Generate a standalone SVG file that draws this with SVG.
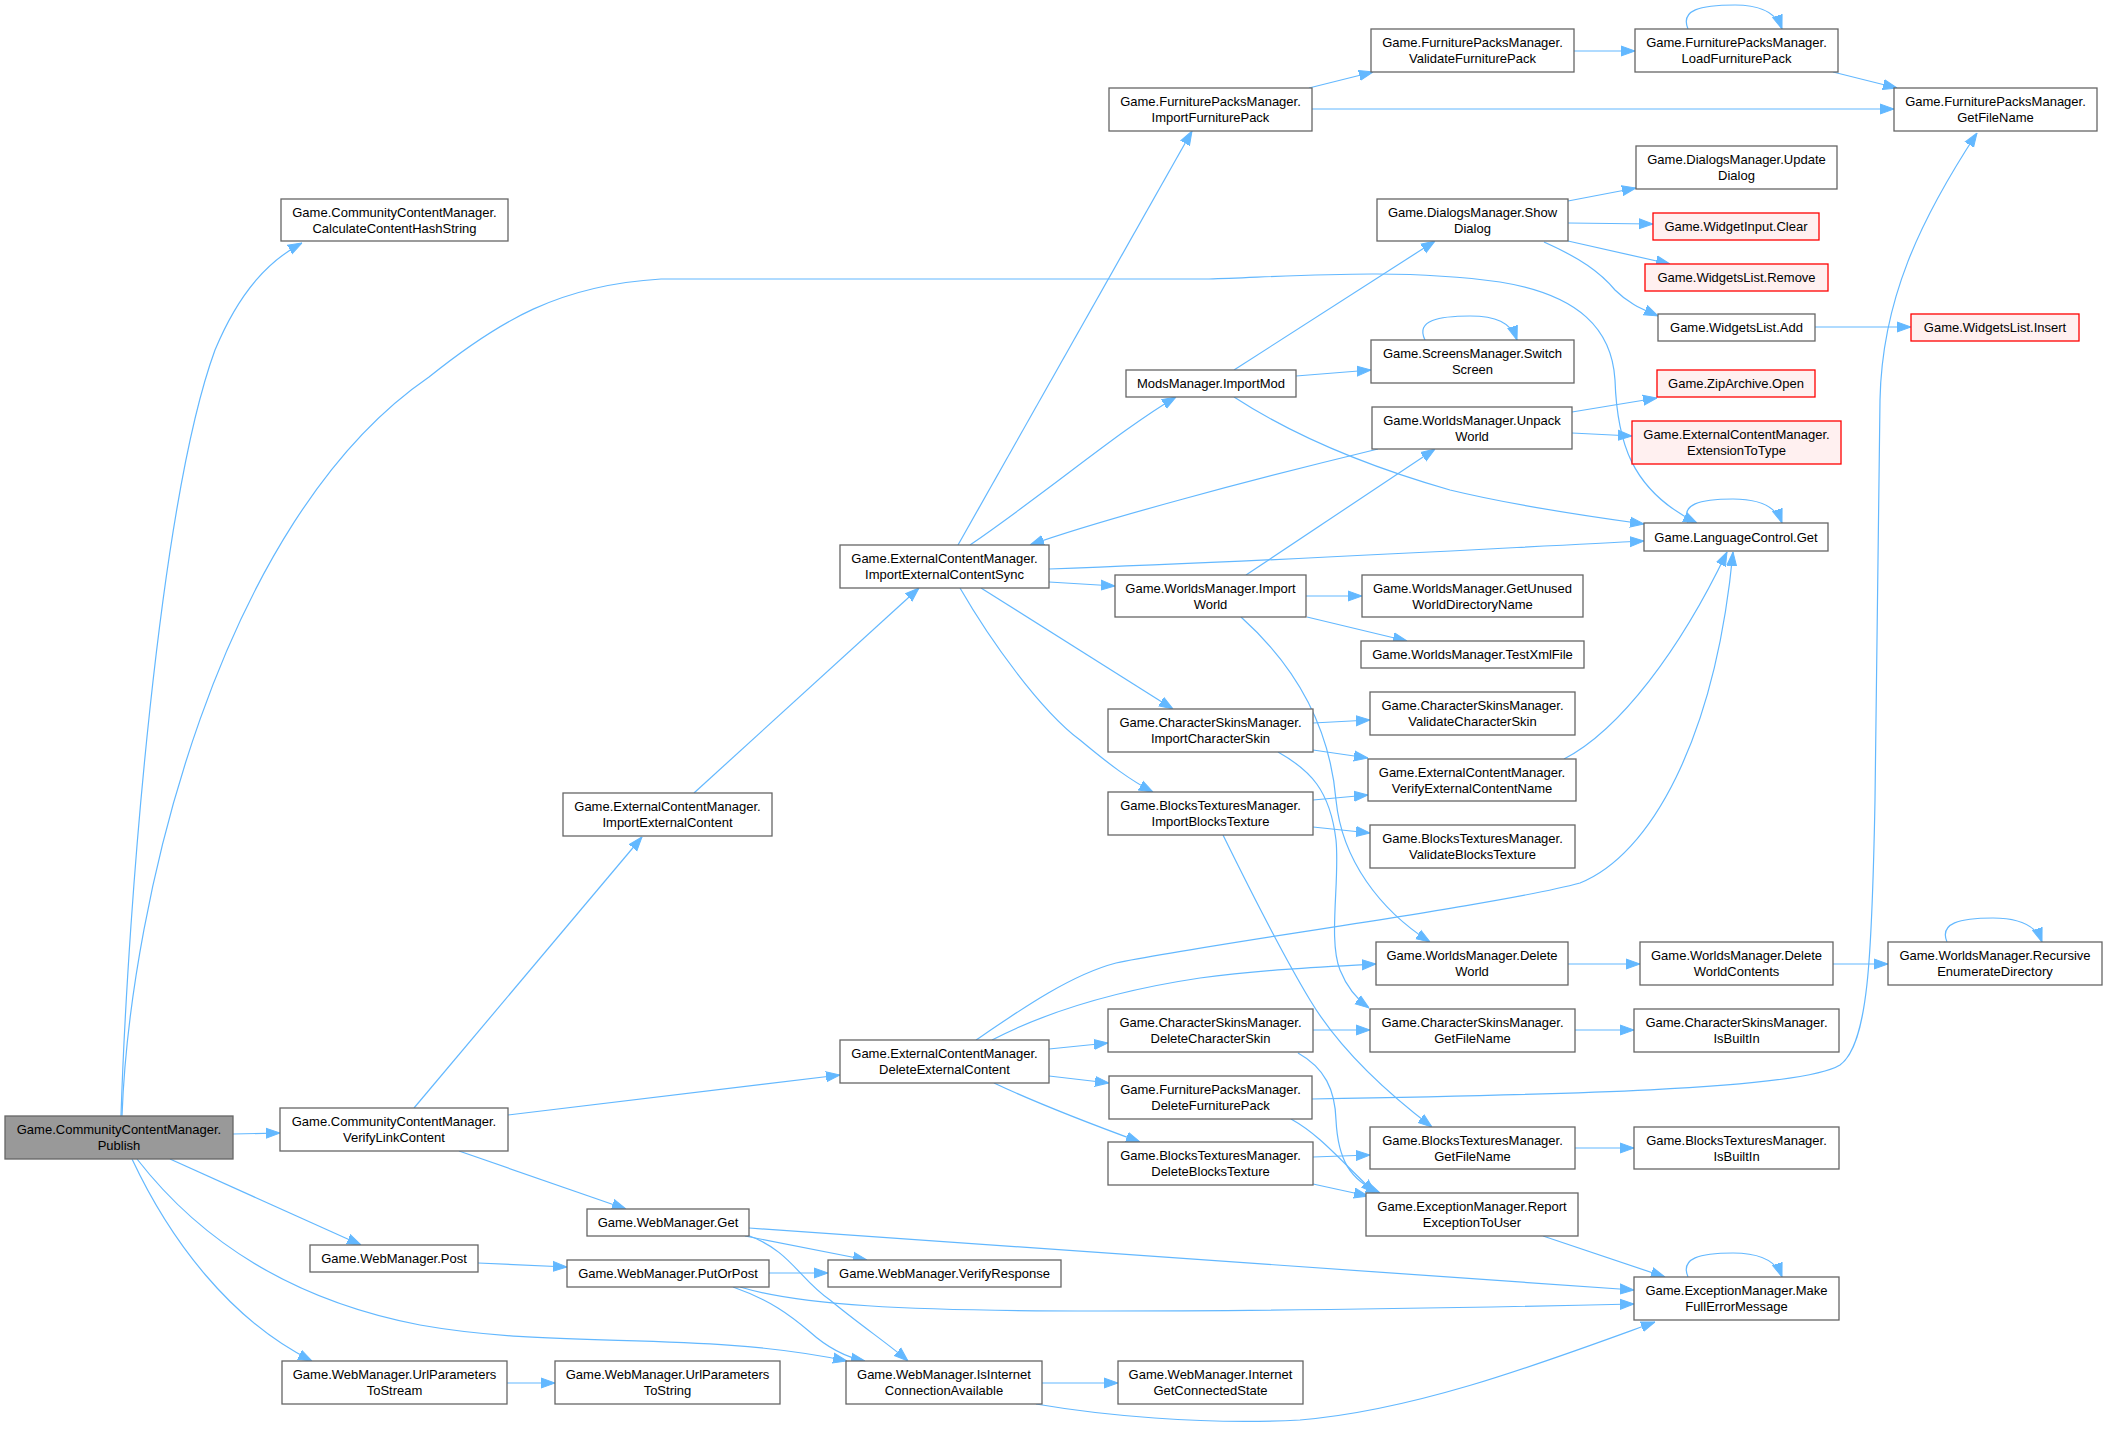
<svg xmlns="http://www.w3.org/2000/svg" width="2107" height="1430" viewBox="0 0 2107 1430">
<style>
.node rect{fill:#ffffff;stroke:#666666;stroke-width:1.3}
.node.root rect{fill:#999999}
.node.red rect{fill:#fff0f0;stroke:#ff0000}
.node text{font-family:"Liberation Sans",Arial,sans-serif;font-size:13px;fill:#000000;text-anchor:middle}
.edges path{fill:none;stroke:#63b8ff;stroke-width:1.2;marker-end:url(#ah)}
</style>
<defs>
<marker id="ah" markerUnits="userSpaceOnUse" markerWidth="14" markerHeight="12" viewBox="0 0 14 12" refX="14" refY="6" orient="auto">
<path d="M0,1 L14,6 L0,11 z" fill="#63b8ff" stroke="#63b8ff" stroke-width="1"/>
</marker>
</defs>
<rect x="0" y="0" width="2107" height="1430" fill="#ffffff"/>
<g class="edges">
<path d="M121,1116 C128,900 160,500 215,350 C240,290 270,260 302,243"/>
<path d="M122,1116 C130,900 220,520 429,377 C500,320 560,285 661,279 L1209,279 C1300,276 1400,268 1500,282 C1580,295 1612,330 1615,380 C1617,440 1630,490 1697,523"/>
<path d="M233,1134 L280,1133"/>
<path d="M170,1159 L361,1245"/>
<path d="M137,1159 C200,1240 290,1300 420,1325 C560,1350 700,1330 847,1361"/>
<path d="M132,1159 C170,1240 230,1320 312,1361"/>
<path d="M414,1108 L642,837"/>
<path d="M508,1115 L840,1075"/>
<path d="M459,1151 L626,1209"/>
<path d="M694,793 L919,588"/>
<path d="M478,1263 L567,1267"/>
<path d="M507,1383 L555,1383"/>
<path d="M745,1236 L867,1260"/>
<path d="M749,1228 L1634,1290"/>
<path d="M747,1235 C790,1250 800,1280 830,1300 C860,1325 890,1345 908,1361"/>
<path d="M769,1273 L828,1273"/>
<path d="M740,1287 C800,1305 900,1311 1100,1311 C1300,1311 1500,1307 1634,1304"/>
<path d="M733,1287 C770,1300 790,1315 810,1332 C830,1350 850,1358 865,1361"/>
<path d="M1042,1383 L1118,1383"/>
<path d="M1036,1404 C1100,1415 1200,1425 1300,1420 C1420,1410 1550,1360 1655,1322"/>
<path d="M958,545 L1192,131"/>
<path d="M970,545 C1050,490 1120,430 1176,397"/>
<path d="M1378,449 C1250,480 1100,520 1030,545"/>
<path d="M1049,569 C1300,560 1500,548 1644,541"/>
<path d="M1049,582 L1115,586"/>
<path d="M981,588 L1173,709"/>
<path d="M960,588 C990,640 1040,710 1080,740 C1110,765 1130,780 1153,792"/>
<path d="M1309,88 L1373,72"/>
<path d="M1312,109 L1894,109"/>
<path d="M1574,51 L1635,51"/>
<path d="M1688,29 C1680,10 1700,5 1735,5 C1760,5 1776,12 1782,29"/>
<path d="M1833,72 L1897,88"/>
<path d="M1312,1099 C1550,1095 1800,1090 1840,1065 C1868,1045 1872,960 1875,800 L1880,400 C1882,300 1920,220 1977,133"/>
<path d="M1568,201 L1636,188"/>
<path d="M1568,223 L1653,224"/>
<path d="M1568,241 L1670,264"/>
<path d="M1544,242 C1580,258 1600,272 1615,290 C1630,305 1645,310 1658,316"/>
<path d="M1234,370 L1435,241"/>
<path d="M1296,376 L1371,370"/>
<path d="M1425,340 C1415,320 1440,316 1470,316 C1495,316 1511,322 1517,340"/>
<path d="M1234,397 C1300,440 1380,470 1450,490 C1520,507 1600,518 1644,524"/>
<path d="M1572,412 L1657,398"/>
<path d="M1572,433 L1632,436"/>
<path d="M1246,575 L1435,449"/>
<path d="M1306,596 L1362,596"/>
<path d="M1307,617 L1407,641"/>
<path d="M1241,617 C1300,670 1330,730 1336,800 C1342,860 1380,910 1430,942"/>
<path d="M1278,752 C1310,770 1330,790 1336,840 C1340,880 1328,940 1340,970 C1348,990 1358,1000 1369,1008"/>
<path d="M1313,723 L1370,720"/>
<path d="M1313,750 L1368,758"/>
<path d="M1313,800 L1368,795"/>
<path d="M1313,827 L1370,833"/>
<path d="M1223,835 C1250,890 1280,950 1310,1000 C1340,1050 1390,1095 1432,1127"/>
<path d="M1564,759 C1620,730 1680,650 1727,552"/>
<path d="M976,1040 C1020,1010 1070,975 1116,963 C1200,945 1500,905 1580,883 C1650,855 1715,740 1733,552"/>
<path d="M992,1040 C1050,1010 1120,990 1200,978 C1260,970 1320,967 1376,964"/>
<path d="M1049,1049 L1108,1043"/>
<path d="M1049,1076 L1109,1083"/>
<path d="M994,1083 C1030,1100 1080,1120 1140,1142"/>
<path d="M1568,964 L1640,964"/>
<path d="M1833,964 L1888,964"/>
<path d="M1947,942 C1939,923 1960,918 1993,918 C2018,918 2036,925 2042,942"/>
<path d="M1313,1030 L1370,1030"/>
<path d="M1298,1053 C1325,1068 1335,1090 1336,1120 C1338,1160 1350,1180 1380,1193"/>
<path d="M1291,1119 C1320,1135 1340,1160 1375,1193"/>
<path d="M1313,1157 L1370,1155"/>
<path d="M1313,1184 L1368,1196"/>
<path d="M1575,1030 L1634,1030"/>
<path d="M1575,1148 L1634,1148"/>
<path d="M1543,1236 L1665,1277"/>
<path d="M1688,1277 C1680,1258 1700,1253 1733,1253 C1758,1253 1776,1260 1782,1277"/>
<path d="M1688,523 C1680,504 1700,499 1733,499 C1758,499 1776,506 1782,523"/>
<path d="M1815,327 L1911,327"/>
</g>
<g id="n_publish" class="node root"><rect x="5" y="1116" width="228" height="43"/><text x="119" y="1133.5">Game.CommunityContentManager.</text><text x="119" y="1149.5">Publish</text></g>
<g id="n_calchash" class="node"><rect x="281" y="199" width="227" height="42"/><text x="394.5" y="216.5">Game.CommunityContentManager.</text><text x="394.5" y="232.5">CalculateContentHashString</text></g>
<g id="n_verifylink" class="node"><rect x="280" y="1108" width="228" height="43"/><text x="394" y="1125.5">Game.CommunityContentManager.</text><text x="394" y="1141.5">VerifyLinkContent</text></g>
<g id="n_post" class="node"><rect x="310" y="1245" width="168" height="27"/><text x="394" y="1263">Game.WebManager.Post</text></g>
<g id="n_urlstream" class="node"><rect x="282" y="1361" width="225" height="43"/><text x="394.5" y="1378.5">Game.WebManager.UrlParameters</text><text x="394.5" y="1394.5">ToStream</text></g>
<g id="n_deleteext" class="node"><rect x="840" y="1040" width="209" height="43"/><text x="944.5" y="1057.5">Game.ExternalContentManager.</text><text x="944.5" y="1073.5">DeleteExternalContent</text></g>
<g id="n_get" class="node"><rect x="587" y="1209" width="162" height="27"/><text x="668" y="1227">Game.WebManager.Get</text></g>
<g id="n_putorpost" class="node"><rect x="567" y="1260" width="202" height="27"/><text x="668" y="1278">Game.WebManager.PutOrPost</text></g>
<g id="n_verifyresp" class="node"><rect x="828" y="1260" width="233" height="27"/><text x="944.5" y="1278">Game.WebManager.VerifyResponse</text></g>
<g id="n_urlstring" class="node"><rect x="555" y="1361" width="225" height="43"/><text x="667.5" y="1378.5">Game.WebManager.UrlParameters</text><text x="667.5" y="1394.5">ToString</text></g>
<g id="n_isinternet" class="node"><rect x="846" y="1361" width="196" height="43"/><text x="944" y="1378.5">Game.WebManager.IsInternet</text><text x="944" y="1394.5">ConnectionAvailable</text></g>
<g id="n_importsync" class="node"><rect x="840" y="545" width="209" height="43"/><text x="944.5" y="562.5">Game.ExternalContentManager.</text><text x="944.5" y="578.5">ImportExternalContentSync</text></g>
<g id="n_importext" class="node"><rect x="563" y="793" width="209" height="43"/><text x="667.5" y="810.5">Game.ExternalContentManager.</text><text x="667.5" y="826.5">ImportExternalContent</text></g>
<g id="n_importfurn" class="node"><rect x="1109" y="88" width="203" height="43"/><text x="1210.5" y="105.5">Game.FurniturePacksManager.</text><text x="1210.5" y="121.5">ImportFurniturePack</text></g>
<g id="n_validfurn" class="node"><rect x="1371" y="29" width="203" height="43"/><text x="1472.5" y="46.5">Game.FurniturePacksManager.</text><text x="1472.5" y="62.5">ValidateFurniturePack</text></g>
<g id="n_showdialog" class="node"><rect x="1377" y="199" width="191" height="42"/><text x="1472.5" y="216.5">Game.DialogsManager.Show</text><text x="1472.5" y="232.5">Dialog</text></g>
<g id="n_switchscreen" class="node"><rect x="1371" y="340" width="203" height="43"/><text x="1472.5" y="357.5">Game.ScreensManager.Switch</text><text x="1472.5" y="373.5">Screen</text></g>
<g id="n_importmod" class="node"><rect x="1126" y="370" width="170" height="27"/><text x="1211" y="388">ModsManager.ImportMod</text></g>
<g id="n_unpackworld" class="node"><rect x="1372" y="407" width="200" height="42"/><text x="1472" y="424.5">Game.WorldsManager.Unpack</text><text x="1472" y="440.5">World</text></g>
<g id="n_loadfurn" class="node"><rect x="1635" y="29" width="203" height="43"/><text x="1736.5" y="46.5">Game.FurniturePacksManager.</text><text x="1736.5" y="62.5">LoadFurniturePack</text></g>
<g id="n_furnfilename" class="node"><rect x="1894" y="88" width="203" height="43"/><text x="1995.5" y="105.5">Game.FurniturePacksManager.</text><text x="1995.5" y="121.5">GetFileName</text></g>
<g id="n_updatedialog" class="node"><rect x="1636" y="146" width="201" height="43"/><text x="1736.5" y="163.5">Game.DialogsManager.Update</text><text x="1736.5" y="179.5">Dialog</text></g>
<g id="n_clear" class="node red"><rect x="1653" y="213" width="166" height="27"/><text x="1736" y="231">Game.WidgetInput.Clear</text></g>
<g id="n_remove" class="node red"><rect x="1645" y="264" width="183" height="27"/><text x="1736.5" y="282">Game.WidgetsList.Remove</text></g>
<g id="n_add" class="node"><rect x="1658" y="314" width="157" height="27"/><text x="1736.5" y="332">Game.WidgetsList.Add</text></g>
<g id="n_insert" class="node red"><rect x="1911" y="314" width="168" height="27"/><text x="1995" y="332">Game.WidgetsList.Insert</text></g>
<g id="n_zipopen" class="node red"><rect x="1657" y="370" width="158" height="27"/><text x="1736" y="388">Game.ZipArchive.Open</text></g>
<g id="n_exttotype" class="node red"><rect x="1632" y="421" width="209" height="43"/><text x="1736.5" y="438.5">Game.ExternalContentManager.</text><text x="1736.5" y="454.5">ExtensionToType</text></g>
<g id="n_langget" class="node"><rect x="1644" y="523" width="184" height="28"/><text x="1736" y="541.5">Game.LanguageControl.Get</text></g>
<g id="n_importworld" class="node"><rect x="1115" y="575" width="191" height="42"/><text x="1210.5" y="592.5">Game.WorldsManager.Import</text><text x="1210.5" y="608.5">World</text></g>
<g id="n_unusedname" class="node"><rect x="1362" y="575" width="221" height="42"/><text x="1472.5" y="592.5">Game.WorldsManager.GetUnused</text><text x="1472.5" y="608.5">WorldDirectoryName</text></g>
<g id="n_testxml" class="node"><rect x="1361" y="641" width="223" height="27"/><text x="1472.5" y="659">Game.WorldsManager.TestXmlFile</text></g>
<g id="n_importskin" class="node"><rect x="1108" y="709" width="205" height="43"/><text x="1210.5" y="726.5">Game.CharacterSkinsManager.</text><text x="1210.5" y="742.5">ImportCharacterSkin</text></g>
<g id="n_validskin" class="node"><rect x="1370" y="692" width="205" height="43"/><text x="1472.5" y="709.5">Game.CharacterSkinsManager.</text><text x="1472.5" y="725.5">ValidateCharacterSkin</text></g>
<g id="n_verifyname" class="node"><rect x="1368" y="759" width="208" height="42"/><text x="1472" y="776.5">Game.ExternalContentManager.</text><text x="1472" y="792.5">VerifyExternalContentName</text></g>
<g id="n_importtex" class="node"><rect x="1108" y="792" width="205" height="43"/><text x="1210.5" y="809.5">Game.BlocksTexturesManager.</text><text x="1210.5" y="825.5">ImportBlocksTexture</text></g>
<g id="n_validtex" class="node"><rect x="1370" y="825" width="205" height="43"/><text x="1472.5" y="842.5">Game.BlocksTexturesManager.</text><text x="1472.5" y="858.5">ValidateBlocksTexture</text></g>
<g id="n_deleteworld" class="node"><rect x="1376" y="942" width="192" height="43"/><text x="1472" y="959.5">Game.WorldsManager.Delete</text><text x="1472" y="975.5">World</text></g>
<g id="n_deleteskin" class="node"><rect x="1108" y="1009" width="205" height="43"/><text x="1210.5" y="1026.5">Game.CharacterSkinsManager.</text><text x="1210.5" y="1042.5">DeleteCharacterSkin</text></g>
<g id="n_skinfilename" class="node"><rect x="1370" y="1009" width="205" height="43"/><text x="1472.5" y="1026.5">Game.CharacterSkinsManager.</text><text x="1472.5" y="1042.5">GetFileName</text></g>
<g id="n_deletefurn" class="node"><rect x="1109" y="1076" width="203" height="43"/><text x="1210.5" y="1093.5">Game.FurniturePacksManager.</text><text x="1210.5" y="1109.5">DeleteFurniturePack</text></g>
<g id="n_texfilename" class="node"><rect x="1370" y="1127" width="205" height="42"/><text x="1472.5" y="1144.5">Game.BlocksTexturesManager.</text><text x="1472.5" y="1160.5">GetFileName</text></g>
<g id="n_deletetex" class="node"><rect x="1108" y="1142" width="205" height="43"/><text x="1210.5" y="1159.5">Game.BlocksTexturesManager.</text><text x="1210.5" y="1175.5">DeleteBlocksTexture</text></g>
<g id="n_report" class="node"><rect x="1366" y="1193" width="212" height="43"/><text x="1472" y="1210.5">Game.ExceptionManager.Report</text><text x="1472" y="1226.5">ExceptionToUser</text></g>
<g id="n_connstate" class="node"><rect x="1118" y="1361" width="185" height="43"/><text x="1210.5" y="1378.5">Game.WebManager.Internet</text><text x="1210.5" y="1394.5">GetConnectedState</text></g>
<g id="n_worldcontents" class="node"><rect x="1640" y="942" width="193" height="43"/><text x="1736.5" y="959.5">Game.WorldsManager.Delete</text><text x="1736.5" y="975.5">WorldContents</text></g>
<g id="n_recursive" class="node"><rect x="1888" y="942" width="214" height="43"/><text x="1995" y="959.5">Game.WorldsManager.Recursive</text><text x="1995" y="975.5">EnumerateDirectory</text></g>
<g id="n_skinbuiltin" class="node"><rect x="1634" y="1009" width="205" height="43"/><text x="1736.5" y="1026.5">Game.CharacterSkinsManager.</text><text x="1736.5" y="1042.5">IsBuiltIn</text></g>
<g id="n_texbuiltin" class="node"><rect x="1634" y="1127" width="205" height="42"/><text x="1736.5" y="1144.5">Game.BlocksTexturesManager.</text><text x="1736.5" y="1160.5">IsBuiltIn</text></g>
<g id="n_fullerror" class="node"><rect x="1634" y="1277" width="205" height="43"/><text x="1736.5" y="1294.5">Game.ExceptionManager.Make</text><text x="1736.5" y="1310.5">FullErrorMessage</text></g>
</svg>
